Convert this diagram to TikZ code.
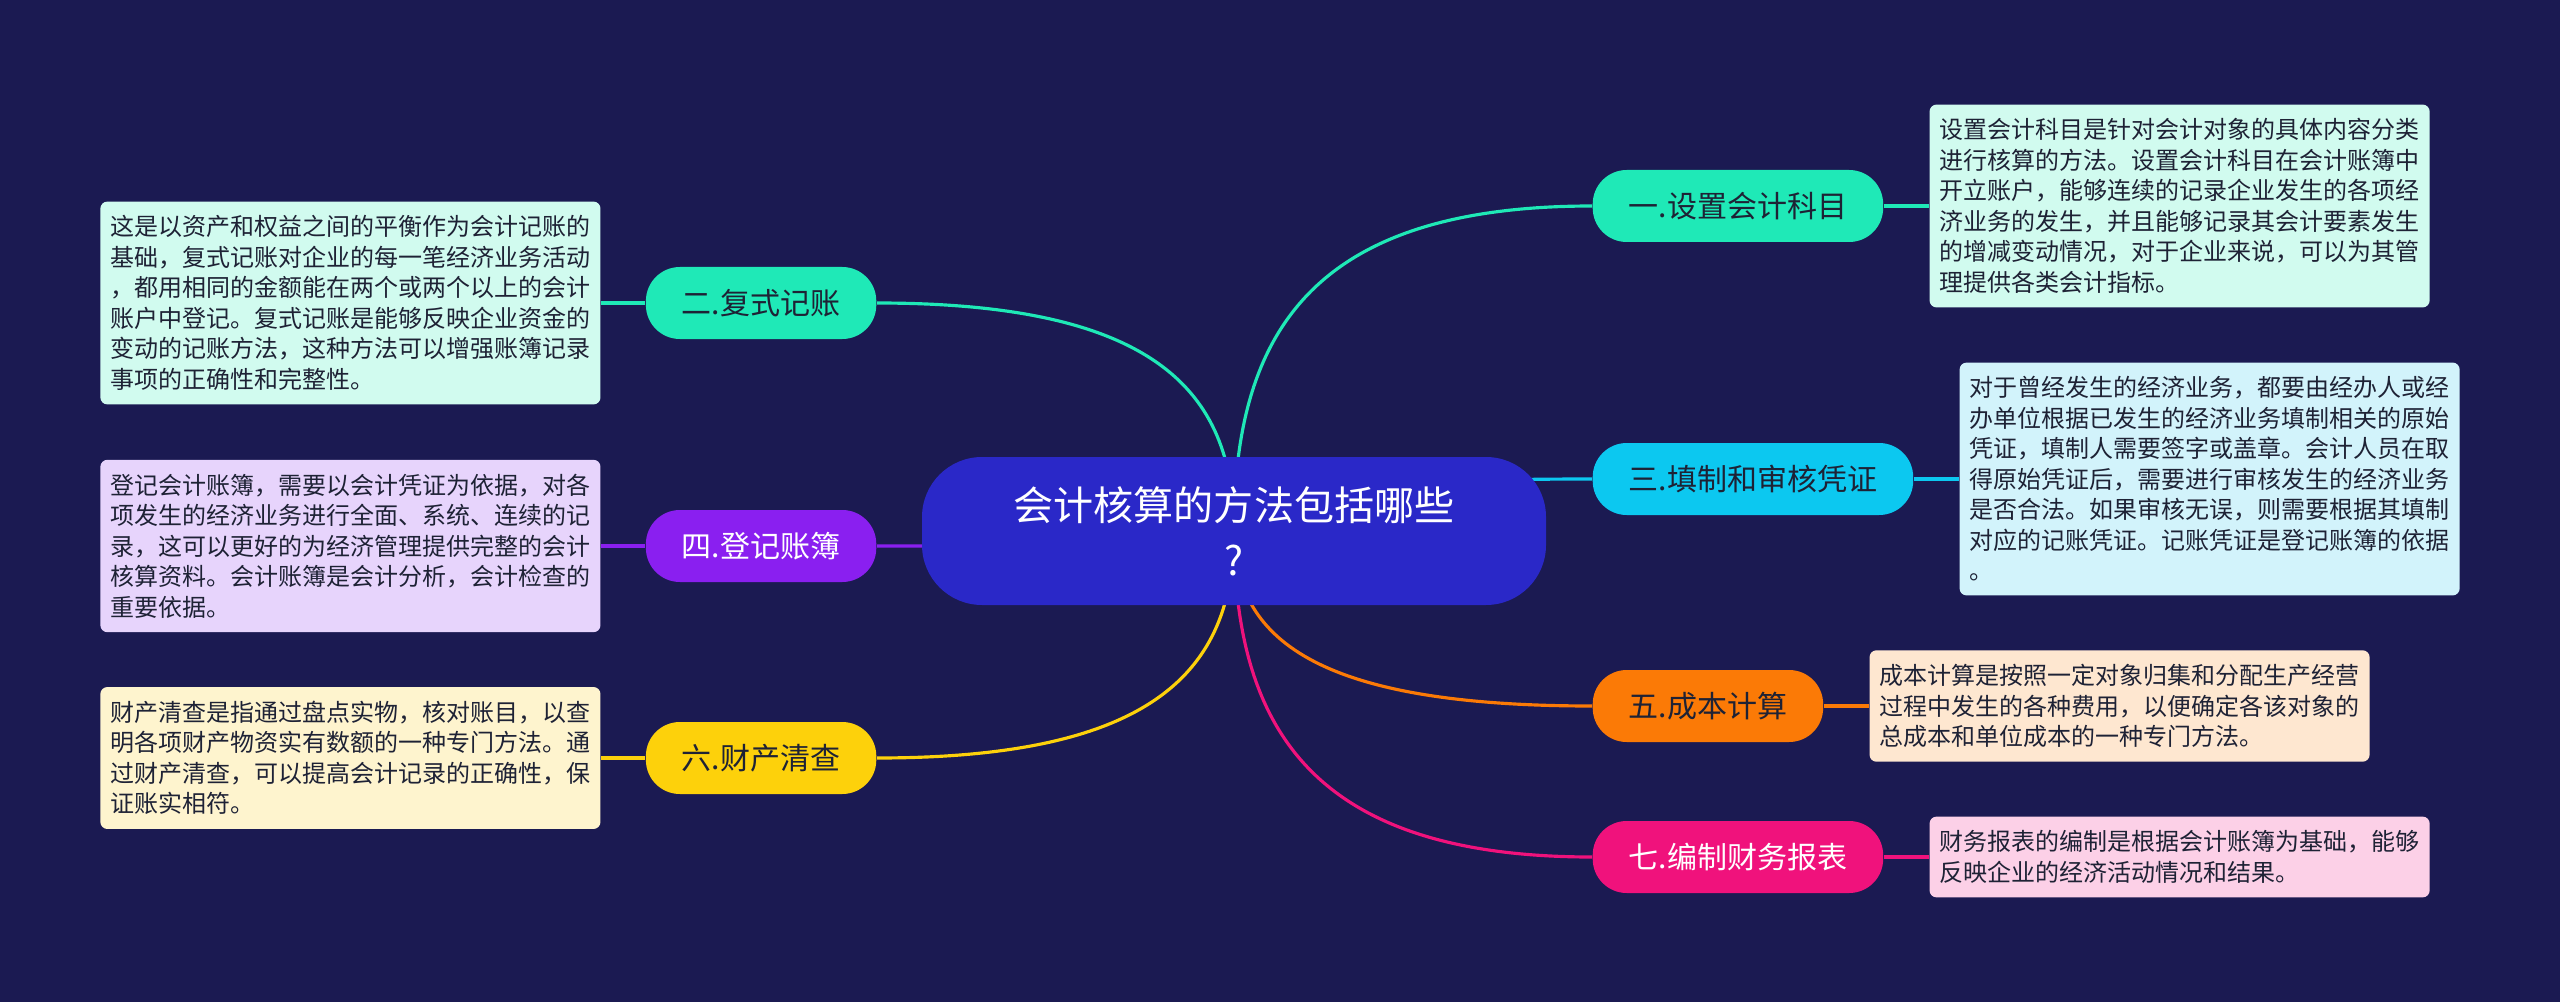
\documentclass[tikz,border=0pt]{standalone}
\usepackage{fontspec}
\setmainfont{Noto Sans CJK SC}
\usepackage{tikz}
\usetikzlibrary{positioning, backgrounds}
\definecolor{navy}{HTML}{1B1A52}
\definecolor{royal}{HTML}{2A28C8}
\definecolor{mint}{HTML}{1FE9B7}
\definecolor{sky}{HTML}{0CC8F0}
\definecolor{violet2}{HTML}{8A1FF0}
\definecolor{orange2}{HTML}{FB7A06}
\definecolor{gold}{HTML}{FDD10B}
\definecolor{rose}{HTML}{F0127C}
\definecolor{lightmint}{HTML}{D1FBEF}
\definecolor{lightsky}{HTML}{D2F3FB}
\definecolor{lightviolet}{HTML}{E7D4FC}
\definecolor{lightgold}{HTML}{FEF4CE}
\definecolor{lightorange}{HTML}{FEE7D0}
\definecolor{lightrose}{HTML}{FCD0E7}
\definecolor{ink}{HTML}{1E2235}
\tikzset{
  topic/.style={rectangle, rounded corners=0.6cm, fill=royal, text=white,
    minimum width=6.24cm, minimum height=1.48cm, align=center,
    font=\fontsize{11.4pt}{15.6pt}\selectfont},
  method/.style={rectangle, rounded corners=0.34cm, inner xsep=0.36cm, inner ysep=0pt,
    minimum height=0.72cm, text=ink, font=\fontsize{8.54pt}{10pt}\selectfont},
  methodw/.style={method, text=white},
  note/.style={rectangle, rounded corners=0.07cm, inner xsep=0.1cm, inner ysep=0.14cm,
    align=left, text=ink, font=\fontsize{6.83pt}{8.68pt}\selectfont},
  link/.style={line width=0.9pt},
}
\begin{document}
\begin{tikzpicture}
\node[topic] (root) at (12.34,-5.31) {会计核算的方法包括哪些\\?};
\node[method, fill=mint, anchor=west] (m1) at (15.92,-2.06) {一.设置会计科目};
\node[method, fill=sky, anchor=west] (m3) at (15.92,-4.79) {三.填制和审核凭证};
\node[method, fill=orange2, anchor=west] (m5) at (15.92,-7.06) {五.成本计算};
\node[methodw, fill=rose, anchor=west] (m7) at (15.92,-8.57) {七.编制财务报表};
\node[method, fill=mint, anchor=east] (m2) at (8.77,-3.03) {二.复式记账};
\node[methodw, fill=violet2, anchor=east] (m4) at (8.77,-5.46) {四.登记账簿};
\node[method, fill=gold, anchor=east] (m6) at (8.77,-7.58) {六.财产清查};
\node[note, fill=lightmint, right=0.45cm of m1] (d1) {设置会计科目是针对会计对象的具体内容分类\\进行核算的方法。设置会计科目在会计账簿中\\开立账户，能够连续的记录企业发生的各项经\\济业务的发生，并且能够记录其会计要素发生\\的增减变动情况，对于企业来说，可以为其管\\理提供各类会计指标。};
\node[note, fill=lightsky, right=0.45cm of m3] (d3) {对于曾经发生的经济业务，都要由经办人或经\\办单位根据已发生的经济业务填制相关的原始\\凭证，填制人需要签字或盖章。会计人员在取\\得原始凭证后，需要进行审核发生的经济业务\\是否合法。如果审核无误，则需要根据其填制\\对应的记账凭证。记账凭证是登记账簿的依据\\。};
\node[note, fill=lightorange, right=0.45cm of m5] (d5) {成本计算是按照一定对象归集和分配生产经营\\过程中发生的各种费用，以便确定各该对象的\\总成本和单位成本的一种专门方法。};
\node[note, fill=lightrose, right=0.45cm of m7] (d7) {财务报表的编制是根据会计账簿为基础，能够\\反映企业的经济活动情况和结果。};
\node[note, fill=lightmint, left=0.44cm of m2] (d2) {这是以资产和权益之间的平衡作为会计记账的\\基础，复式记账对企业的每一笔经济业务活动\\，都用相同的金额能在两个或两个以上的会计\\账户中登记。复式记账是能够反映企业资金的\\变动的记账方法，这种方法可以增强账簿记录\\事项的正确性和完整性。};
\node[note, fill=lightviolet, left=0.44cm of m4] (d4) {登记会计账簿，需要以会计凭证为依据，对各\\项发生的经济业务进行全面、系统、连续的记\\录，这可以更好的为经济管理提供完整的会计\\核算资料。会计账簿是会计分析，会计检查的\\重要依据。};
\node[note, fill=lightgold, left=0.44cm of m6] (d6) {财产清查是指通过盘点实物，核对账目，以查\\明各项财产物资实有数额的一种专门方法。通\\过财产清查，可以提高会计记录的正确性，保\\证账实相符。};
\begin{scope}[on background layer]
\fill[navy] (0,0) rectangle (25.6,-10.02);
\draw[link, mint] (root.center) .. controls +(0,2.02) and +(-2.76,0) .. (m1.west);
\draw[link, sky] (root.center) .. controls +(0,0.32) and +(-2.76,0) .. (m3.west);
\draw[link, orange2] (root.center) .. controls +(0,-1.08) and +(-2.76,0) .. (m5.west);
\draw[link, rose] (root.center) .. controls +(0,-2.01) and +(-2.76,0) .. (m7.west);
\draw[link, mint] (root.center) .. controls +(0,1.42) and +(2.75,0) .. (m2.east);
\draw[link, violet2] (root.center) .. controls +(0,-0.09) and +(2.75,0) .. (m4.east);
\draw[link, gold] (root.center) .. controls +(0,-1.41) and +(2.75,0) .. (m6.east);
\draw[link, mint] (m1) -- (d1);
\draw[link, sky] (m3) -- (d3);
\draw[link, orange2] (m5) -- (d5);
\draw[link, rose] (m7) -- (d7);
\draw[link, mint] (m2) -- (d2);
\draw[link, violet2] (m4) -- (d4);
\draw[link, gold] (m6) -- (d6);
\end{scope}
\end{tikzpicture}
\end{document}
